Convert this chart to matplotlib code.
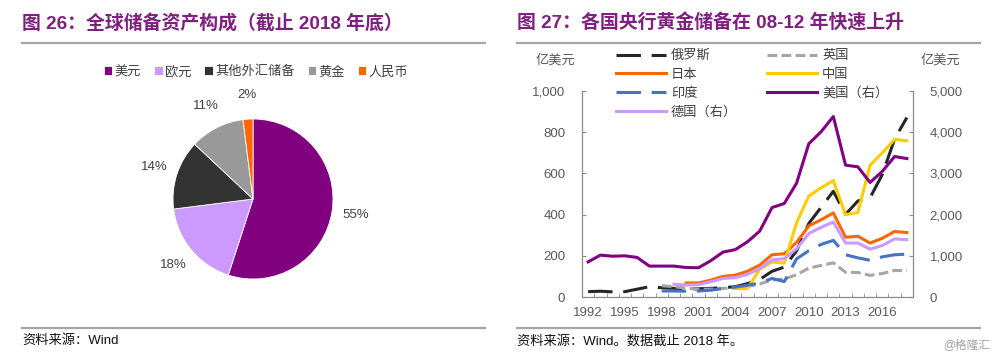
import matplotlib
matplotlib.use('Agg')
import matplotlib.pyplot as plt
import numpy as np
from matplotlib.lines import Line2D
from matplotlib.ticker import FuncFormatter, FixedLocator

FAM = ['Liberation Sans', 'Noto Sans CJK SC', 'DejaVu Sans']
plt.rcParams['font.family'] = FAM

# ---------------- data ----------------
pie_labels = ['美元', '欧元', '其他外汇储备', '黄金', '人民币']
pie_values = [55, 18, 14, 11, 2]

years = list(range(1992, 2019))
year_ticks = [1992, 1995, 1998, 2001, 2004, 2007, 2010, 2013, 2016]

russia_start = 1992
russia = [26, 28, 25, 26, 38, 50, 45, 42, 40, 40, 42, 45, 50, 65, 85, 125, 145,
          224, 357, 435, 513, 401, 466, 482, 595, 767, 871]
uk_start = 1998
uk = [55, 50, 43, 38, 38, 42, 44, 51, 63, 83, 87, 108, 140, 153, 166, 120, 119,
      105, 114, 129, 128]
japan_start = 2000
japan = [68, 68, 82, 100, 106, 125, 155, 205, 210, 265, 345, 375, 408, 290, 295,
         262, 285, 318, 313]
china_start = 2004
china = [41, 41, 135, 170, 165, 360, 490, 530, 565, 400, 410, 640, 700, 765, 758]
india_start = 1998
india = [29, 29, 28, 29, 33, 41, 48, 57, 68, 90, 75, 185, 225, 255, 275, 205, 190,
         178, 195, 205, 208]
us_start = 1992
us = [853, 1016, 990, 1000, 960, 750, 750, 750, 716, 710, 880, 1090, 1150, 1340,
      1600, 2170, 2270, 2760, 3720, 4010, 4380, 3200, 3160, 2780, 3050, 3410, 3360]
germany_start = 1999
germany = [310, 290, 300, 370, 450, 470, 550, 690, 900, 930, 1170, 1540, 1690,
           1820, 1310, 1310, 1160, 1250, 1410, 1390]

# ---------------- styles ----------------
PURPLE_T = '#7F1F7F'
RULE = '#A6A6A6'
TXT = '#404040'
TICK = '#595959'
pie_colors = ['#800080', '#CC99FF', '#333333', '#999999', '#FF6600']


def fx(x):
    return x / 1000.0


def fy(y):
    return 1 - y / 360.0


def xs(start, vals):
    return list(range(start, start + len(vals)))


fig = plt.figure(figsize=(10, 3.6), dpi=100)

# titles
fig.text(fx(22), fy(23), '图 26：全球储备资产构成（截止 2018 年底）', color=PURPLE_T,
         fontsize=13.6, fontweight='bold', va='center', ha='left')
fig.text(fx(517), fy(23), '图 27：各国央行黄金储备在 08-12 年快速上升', color=PURPLE_T,
         fontsize=13.6, fontweight='bold', va='center', ha='left')
for (x0, x1) in [(22, 485), (517, 980)]:
    for yy in (42.5, 328):
        fig.add_artist(Line2D([fx(x0), fx(x1)], [fy(yy), fy(yy)], color=RULE, lw=1.6,
                              transform=fig.transFigure))
fig.text(fx(22), fy(341), '资料来源：Wind', fontsize=9.5, va='center', ha='left', color='#111111')
fig.text(fx(517), fy(341), '资料来源：Wind。数据截止 2018 年。', fontsize=9.5, va='center',
         ha='left', color='#111111')
fig.text(fx(990), fy(345), '@格隆汇', fontsize=8.5, va='center', ha='right', color='#A0A0A0')

# ---------------- pie ----------------
ax_p = fig.add_axes([fx(153), fy(299), 0.2, 200 / 360.0])
wedges, texts, autotexts = ax_p.pie(
    pie_values, colors=pie_colors, startangle=90, counterclock=False,
    autopct='%.0f%%', pctdistance=1.3,
    wedgeprops=dict(edgecolor='white', linewidth=0.6),
    textprops=dict(fontsize=9.5, color=TXT))
ax_p.set_xlim(-1.25, 1.25)
ax_p.set_ylim(-1.25, 1.25)
ax_p.set_aspect('equal')
ax_p.axis('off')
fig.legend(wedges, pie_labels, ncol=5, loc='center',
           bbox_to_anchor=(fx(256), fy(72)), bbox_transform=fig.transFigure,
           frameon=False, handlelength=0.65, handleheight=0.65, handletextpad=0.15,
           columnspacing=1.0, fontsize=9.5, labelcolor=TXT, borderpad=0)

# ---------------- line chart ----------------
ax = fig.add_axes([0.582, 0.175, 0.331, 206 / 360.0])
ax2 = ax.twinx()
lw = 2.2
l_ru, = ax.plot(xs(russia_start, russia), russia, color='#262626', lw=lw,
                dashes=(8, 3.5), label='俄罗斯')
l_uk, = ax.plot(xs(uk_start, uk), uk, color='#A6A6A6', lw=lw, dashes=(3.2, 1.4),
                label='英国')
l_jp, = ax.plot(xs(japan_start, japan), japan, color='#FF6600', lw=lw, label='日本')
l_cn, = ax.plot(xs(china_start, china), china, color='#FFCC00', lw=lw, label='中国')
l_in, = ax.plot(xs(india_start, india), india, color='#4472C4', lw=lw, dashes=(8, 3.5),
                label='印度')
l_us, = ax2.plot(xs(us_start, us), us, color='#800080', lw=lw, label='美国（右）')
l_de, = ax2.plot(xs(germany_start, germany), germany, color='#CC99FF', lw=lw,
                 label='德国（右）')

ax.set_xlim(1991.5, 2018.5)
ax.set_ylim(0, 1000)
ax2.set_ylim(0, 5000)
ax.set_yticks(range(0, 1001, 200))
ax2.set_yticks(range(0, 5001, 1000))
fmt = FuncFormatter(lambda v, p: f'{int(v):,}')
ax.yaxis.set_major_formatter(fmt)
ax2.yaxis.set_major_formatter(fmt)
ax.set_xticks(year_ticks)
ax.set_xticklabels([str(y) for y in year_ticks])
ax.xaxis.set_minor_locator(FixedLocator([y + 0.5 for y in years[:-1]]))

for a in (ax, ax2):
    for s in a.spines.values():
        s.set_color('#8C8C8C')
        s.set_linewidth(0.9)
    a.spines['top'].set_visible(False)
ax2.spines['bottom'].set_visible(False)
ax2.spines['left'].set_visible(False)
ax.spines['right'].set_visible(False)

ax.tick_params(axis='x', which='major', length=0, pad=7, labelsize=9.5, labelcolor=TICK)
ax.tick_params(axis='x', which='minor', length=3, direction='in', color='#8C8C8C')
ax.tick_params(axis='y', length=3, direction='in', pad=12, labelsize=9.5, labelcolor=TICK,
               color='#8C8C8C')
ax2.tick_params(axis='y', length=3, direction='in', pad=12, labelsize=9.5, labelcolor=TICK,
                color='#8C8C8C')

fig.text(fx(555), fy(60), '亿美元', ha='center', va='center', fontsize=9.5, color=TICK)
fig.text(fx(940), fy(60), '亿美元', ha='center', va='center', fontsize=9.5, color=TICK)

handles = [l_ru, l_jp, l_in, l_de, l_uk, l_cn, l_us]
fig.legend(handles, [h.get_label() for h in handles], ncol=2, loc='upper left',
           bbox_to_anchor=(fx(616), fy(50)), bbox_transform=fig.transFigure,
           frameon=False, fontsize=9.5, handlelength=3.8, handletextpad=0.35,
           columnspacing=2.3, labelspacing=0.48, borderpad=0, borderaxespad=0,
           labelcolor=TXT)

fig.savefig('out.png', dpi=100)
